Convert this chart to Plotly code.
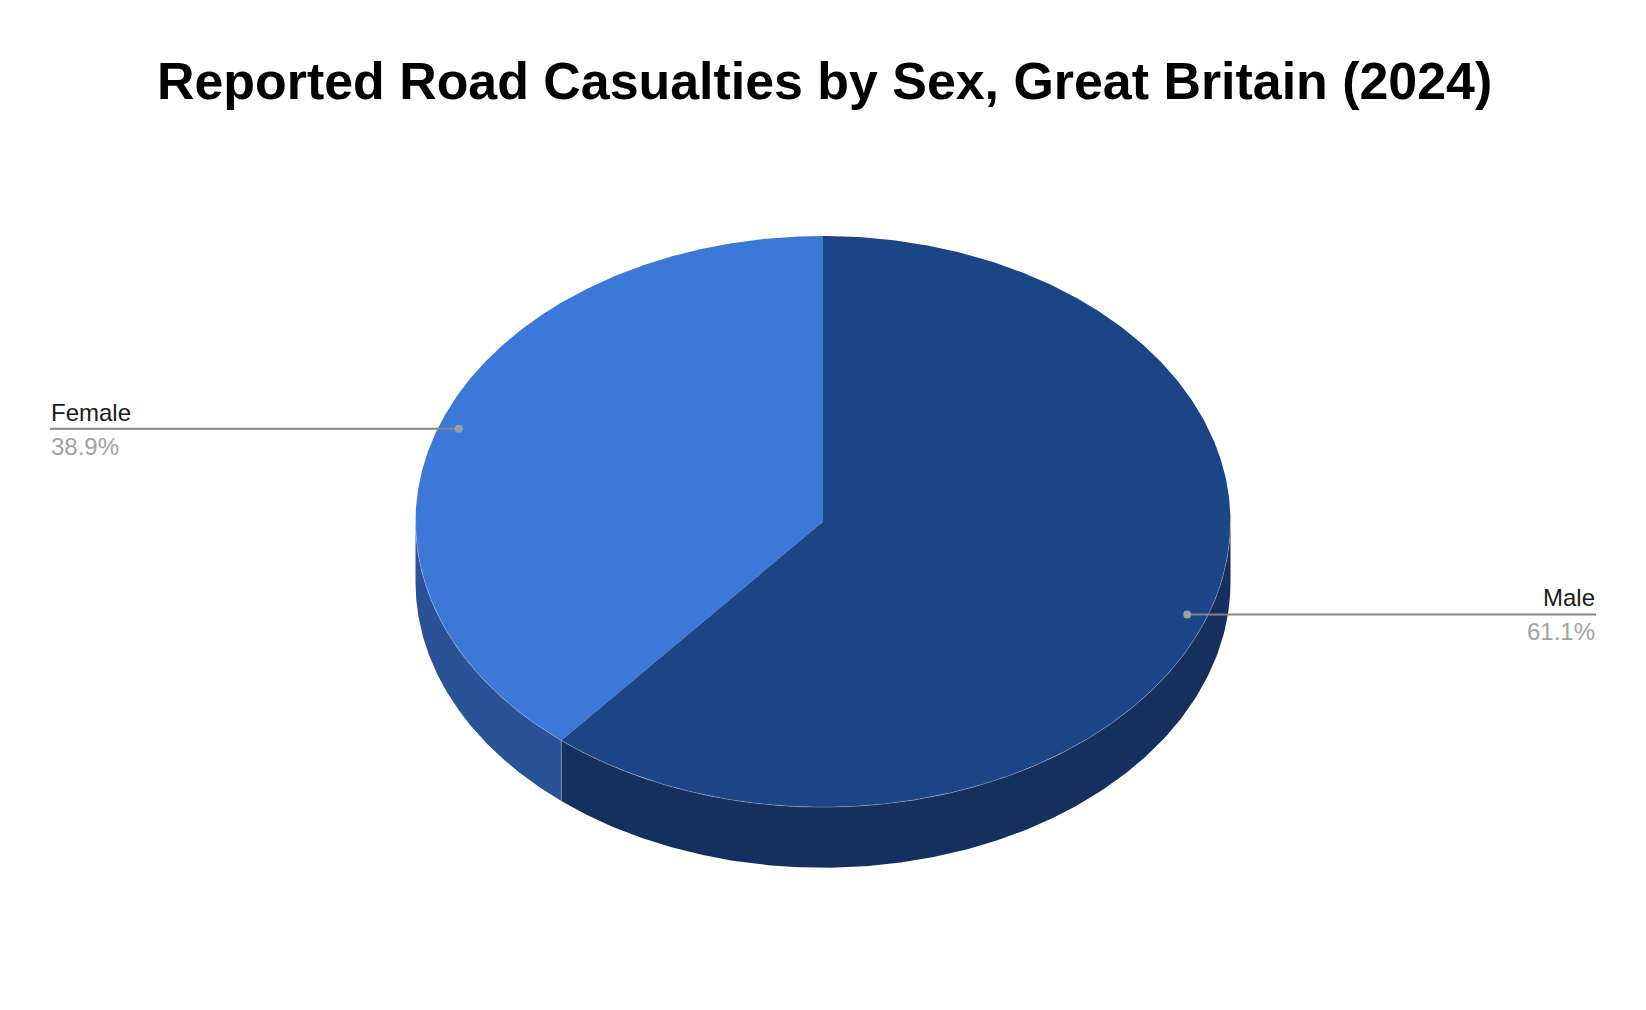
import numpy as np
import plotly.graph_objects as go

TITLE = "Reported Road Casualties by Sex, Great Britain (2024)"
categories = ["Female", "Male"]
shares = [38.9, 61.1]
share_labels = ["38.9%", "61.1%"]
top_colors = ["#3c78d8", "#1c4587"]
side_colors = ["#2a5296", "#152f5f"]

W, H = 1646, 1010
CX, CY, RX, RY, DEPTH = 823.0, 521.6, 407.5, 285.6, 60.5


def pt(deg, k=1.0, dz=0.0):
    t = np.radians(deg)
    return CX + RX * k * np.sin(t), CY - RY * k * np.cos(t) + dz


male_deg = shares[1] / sum(shares) * 360
# clockwise angles from 12 o'clock: male first, then female
spans = {"Male": (0.0, male_deg), "Female": (male_deg, 360.0)}

fig = go.Figure()


def poly(x, y, color):
    fig.add_trace(go.Scatter(x=x, y=y, mode="lines", fill="toself", fillcolor=color,
                             line=dict(width=0, color=color), hoverinfo="skip", showlegend=False))


def seam(x, y):
    fig.add_trace(go.Scatter(x=x, y=y, mode="lines", line=dict(width=0.6, color="rgba(255,255,255,0.45)"),
                             hoverinfo="skip", showlegend=False))


# visible side wall: lower half of the disc
for name, tc, sc in zip(categories, top_colors, side_colors):
    a, b = spans[name]
    lo, hi = max(a, 90.0), min(b, 270.0)
    th = np.linspace(lo, hi, 200)
    x0, y0 = pt(th)
    x1, y1 = pt(th[::-1], dz=DEPTH)
    poly(np.r_[x0, x1], np.r_[y0, y1], sc)

# top face
for name, tc in zip(categories, top_colors):
    a, b = spans[name]
    th = np.linspace(a, b, 400)
    x0, y0 = pt(th)
    poly(np.r_[CX, x0, CX], np.r_[CY, y0, CY], tc)

# rim and wall seams
th = np.linspace(90, 270, 400)
seam(*pt(th))
jx, jy = pt(male_deg)
seam([jx, jx], [jy, jy + DEPTH])

# leader lines, dots, labels
annots = []
for name, share, lab in zip(categories, shares, share_labels):
    a, b = spans[name]
    mid = (a + b) / 2
    dx, dy = pt(mid, k=0.951)
    left = dx < CX
    end = 50 if left else 1596
    fig.add_trace(go.Scatter(x=[dx, end], y=[dy, dy], mode="lines", line=dict(width=2, color="#858585"),
                             hoverinfo="skip", showlegend=False))
    fig.add_trace(go.Scatter(x=[dx], y=[dy], mode="markers", marker=dict(size=8, color="#9e9e9e"),
                             hoverinfo="skip", showlegend=False))
    anchor = "left" if left else "right"
    annots.append(dict(x=end, y=dy - 2, text=name, showarrow=False, xanchor=anchor, yanchor="bottom",
                       xref="x", yref="y", borderpad=0, font=dict(family="Liberation Sans", size=24, color="#1a1a1a")))
    annots.append(dict(x=end, y=dy + 3, text=lab, showarrow=False, xanchor=anchor, yanchor="top",
                       xref="x", yref="y", borderpad=0, font=dict(family="Liberation Sans", size=24, color="#a3a3a3")))

annots.append(dict(x=824, y=80.5, text=f"<b>{TITLE}</b>", showarrow=False, xanchor="center", yanchor="middle",
                   xref="x", yref="y", font=dict(family="Liberation Sans", size=51.9, color="#000000")))

fig.update_layout(
    width=W, height=H, margin=dict(l=0, r=0, t=0, b=0),
    paper_bgcolor="white", plot_bgcolor="white", showlegend=False, annotations=annots,
    xaxis=dict(range=[0, W], visible=False, fixedrange=True),
    yaxis=dict(range=[H, 0], visible=False, fixedrange=True),
)
fig.write_html("out.html", post_script="document.body.style.margin='0';", config={"displayModeBar": False})
